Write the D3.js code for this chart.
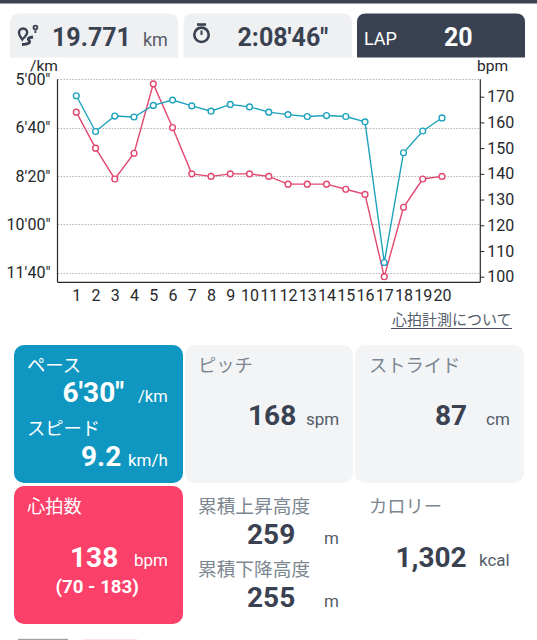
<!DOCTYPE html>
<html><head><meta charset="utf-8">
<script src="https://cdn.jsdelivr.net/npm/d3@7/dist/d3.min.js"></script>
<style>html,body{margin:0;padding:0;background:#fff;overflow:hidden}svg{display:block}text{font-family:Roboto,"Noto Sans CJK JP",sans-serif}</style>
</head><body><svg id="c" width="537" height="640"></svg>
<script>
const laps=d3.range(1,21);
const paceSec=[334,408,376,378,354,343,355,366,352,357,368,373,377,375,377,388,679,452,407,380];
const heartRate=[164,150,138,148,175,158,140,139,140,140,139,136,136,136,134,132,100,127,138,139];
const paceTicks=[300,400,500,600,700];
const paceTickLabels=["5'00\"","6'40\"","8'20\"","10'00\"","11'40\""];
const bpmTicks=[100,110,120,130,140,150,160,170];

const svg=d3.select('#c');
const DARK='#3a4252',GREY='#f2f4f6',INK='#3a4252',LABEL='#7c8791',UNIT='#545c69';
const BLUE='#0f97c1',PINK='#fb4069';
const LINEB='#1fa3bd',LINEP='#e2476f';

function t(x,y,s,o={}){
  return svg.append('text').attr('x',x).attr('y',y).text(s)
    .attr('font-size',o.size||16).attr('font-weight',o.bold?700:400)
    .attr('fill',o.fill||INK).attr('text-anchor',o.anchor||'start');
}
function topCard(x,w,fill){
  const r=9,y=13.5,b=57.5;
  svg.append('path').attr('fill',fill)
    .attr('d',`M${x},${b}V${y+r}Q${x},${y} ${x+r},${y}H${x+w-r}Q${x+w},${y} ${x+w},${y+r}V${b}Z`);
}
function card(x,y,w,h,fill){
  svg.append('rect').attr('x',x).attr('y',y).attr('width',w).attr('height',h).attr('rx',10).attr('fill',fill);
}
// header
svg.append('rect').attr('width',537).attr('height',3.5).attr('fill',DARK);
topCard(10,168,'#eff0f2');topCard(183.5,168.5,'#eff0f2');topCard(357,168,DARK);
t(52,46,'19.771',{size:25,bold:1});
t(143,46,'km',{size:18,fill:UNIT});
t(237.5,46,"2:08'46\"",{size:25,bold:1});
t(364,44.5,'LAP',{size:18,fill:'#fff'});
t(444,46,'20',{size:25,bold:1,fill:'#fff'});
// route icon
const ic=svg.append('g').attr('fill','none').attr('stroke',INK).attr('stroke-width',2.4);
ic.append('path').attr('d','M22.3,39.5C20,36.5 19,35.2 19,32.6a4.1,4.1 0 0 1 8.2,0C27.2,35.2 25,36.5 22.3,39.5Z');
ic.append('circle').attr('cx',35.4).attr('cy',27.6).attr('r',1.9).attr('stroke-width',1.8);
ic.append('path').attr('d','M35.4,30.5V33').attr('stroke-width',1.8);
ic.append('path').attr('d','M33,37C29,37.5 27,38.5 29,40.5C31,42.5 28,44.5 22,44.5').attr('stroke-width',2.8);
// stopwatch icon
const sw=svg.append('g').attr('fill','none').attr('stroke',INK).attr('stroke-width',2.6);
sw.append('circle').attr('cx',201.5).attr('cy',34.8).attr('r',7.2);
sw.append('path').attr('d','M197,24.5H206');
sw.append('path').attr('d','M201.5,30.5V35').attr('stroke-width',2);

// chart
const x=d3.scalePoint().domain(laps).range([76.3,442]);
const yPace=d3.scaleLinear().domain([300,720]).range([79.3,282.3]);
const yBpm=d3.scaleLinear().domain([100,170]).range([276.7,96.7]);
const [L,R,T,B]=[57.5,480.3,79.3,282.3];

svg.append('g').selectAll('line').data(paceTicks).join('line')
  .attr('x1',L).attr('x2',R).attr('y1',d=>Math.round(yPace(d))+.5).attr('y2',d=>Math.round(yPace(d))+.5)
  .attr('stroke','#b4b4b4').attr('stroke-width',1).attr('stroke-dasharray','1.5 1.5');

const axL=svg.append('g').attr('transform',`translate(${L},0)`).call(
  d3.axisLeft(yPace).tickValues(paceTicks).tickFormat((d,i)=>paceTickLabels[i]).tickSize(0).tickPadding(7));
const axR=svg.append('g').attr('transform',`translate(${R},0)`).call(
  d3.axisRight(yBpm).tickValues(bpmTicks).tickSize(4).tickPadding(3));
const axB=svg.append('g').attr('transform',`translate(0,${B})`).call(
  d3.axisBottom(x).tickSize(0).tickPadding(7));
[axL,axR,axB].forEach(a=>{
  a.selectAll('text').attr('font-family','Roboto').attr('font-size',16).attr('fill','#26282b');
  a.selectAll('.domain').attr('stroke','#26282b').attr('stroke-width',1.2);
  a.selectAll('.tick line').attr('stroke','#26282b');
});
axL.select('.domain').attr('d',`M0,${T}V${B}`);
axR.select('.domain').attr('d',`M0,${T}V${B}`);
axB.select('.domain').attr('d',`M${L},0H${R}`);
t(30,71,'/km',{size:15.5,fill:'#26282b'});
t(477,71,'bpm',{size:15.5,fill:'#26282b'});

function series(vals,y,col){
  svg.append('path').datum(vals).attr('fill','none').attr('stroke',col).attr('stroke-width',1.4)
    .attr('d',d3.line().x((d,i)=>x(laps[i])).y(d=>y(d)));
  svg.append('g').selectAll('circle').data(vals).join('circle')
    .attr('cx',(d,i)=>x(laps[i])).attr('cy',d=>y(d)).attr('r',2.9)
    .attr('fill','#fff').attr('stroke',col).attr('stroke-width',1.4);
}
series(heartRate,yBpm,LINEP);
series(paceSec,yPace,LINEB);

t(511.5,325,'心拍計測について',{size:15,anchor:'end',fill:'#555e6b'});
svg.append('rect').attr('x',391).attr('y',328).attr('width',121).attr('height',1).attr('fill','#4a5260');

// panels
card(14,345,169,138,BLUE);card(185,345,168,138,GREY);card(355,345,169,138,GREY);card(14,486,169,138,PINK);

t(27,371.5,'ペース',{size:18.3,fill:'#fff'});
t(62.5,401.5,"6'30\"",{size:28,bold:1,fill:'#fff'});
t(138,402,'/km',{size:16.5,fill:'#fff'});
t(27,435,'スピード',{size:18.3,fill:'#fff'});
t(81,466,'9.2',{size:28,bold:1,fill:'#fff'});
t(128,465.5,'km/h',{size:17,fill:'#fff'});

t(198,371.5,'ピッチ',{size:18.3,fill:LABEL});
t(248,425,'168',{size:28,bold:1});
t(306,425,'spm',{size:17,fill:UNIT});
t(369,371.5,'ストライド',{size:18.3,fill:LABEL});
t(435,425,'87',{size:28,bold:1});
t(486,425,'cm',{size:17,fill:UNIT});

t(27,513,'心拍数',{size:18.3,fill:'#fff'});
t(70,566.5,'138',{size:28,bold:1,fill:'#fff'});
t(134,566,'bpm',{size:17,fill:'#fff'});
t(55.5,593,'(70 - 183)',{size:18.7,bold:1,fill:'#fff'});

t(198,513,'累積上昇高度',{size:18.7,fill:LABEL});
t(247,543.5,'259',{size:28,bold:1});
t(324,544,'m',{size:17,fill:UNIT});
t(198,576,'累積下降高度',{size:18.7,fill:LABEL});
t(247,606.5,'255',{size:28,bold:1});
t(324,606.5,'m',{size:17,fill:UNIT});
t(369,512.5,'カロリー',{size:18.3,fill:LABEL});
t(395.5,566.5,'1,302',{size:28,bold:1});
t(479,566,'kcal',{size:17,fill:UNIT});

// edge of the next row, cut off by the photo
svg.append('rect').attr('x',18).attr('y',638.8).attr('width',50).attr('height',1.2).attr('fill','#9aa2a8');
svg.append('rect').attr('x',83).attr('y',638.8).attr('width',54).attr('height',1.2).attr('fill','#fde3ea');
</script></body></html>
